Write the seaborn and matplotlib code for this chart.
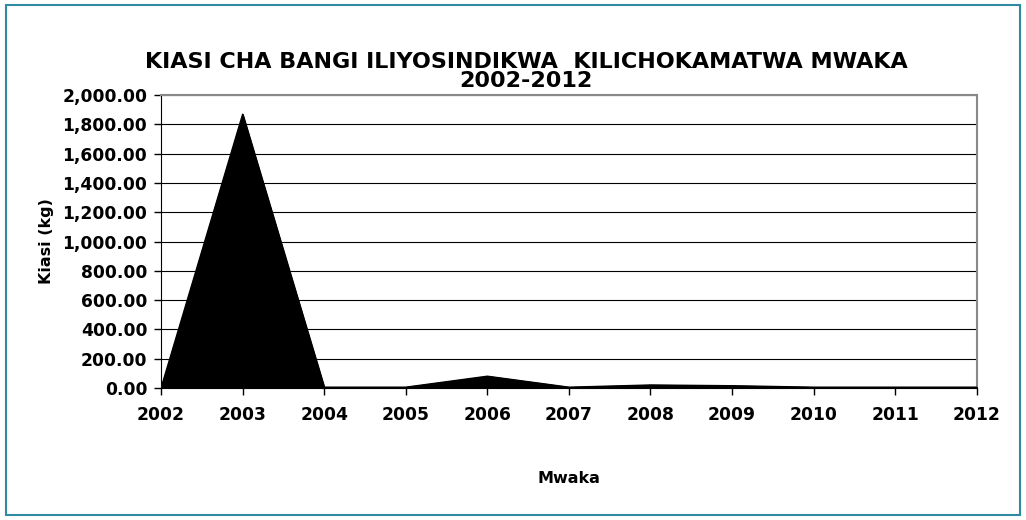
import numpy as np
import pandas as pd
import matplotlib.pyplot as plt
import matplotlib.ticker as mticker
from matplotlib.patches import Rectangle
import seaborn as sns

# data
years = [2002, 2003, 2004, 2005, 2006, 2007, 2008, 2009, 2010, 2011, 2012]
kiasi = [0, 1870, 5, 5, 80, 5, 20, 15, 5, 5, 5]
df = pd.DataFrame({"Mwaka": years, "Kiasi": kiasi})

sns.set_style("white")
plt.rcParams['font.family'] = ['DejaVu Sans']
plt.rcParams['text.color'] = 'black'
plt.rcParams['axes.labelcolor'] = 'black'
plt.rcParams['xtick.color'] = 'black'
plt.rcParams['ytick.color'] = 'black'

fig = plt.figure(figsize=(10.26, 5.2), dpi=100)
ax = fig.add_axes([0.157, 0.254, 0.795, 0.563])

# area
ax.fill_between(df["Mwaka"], df["Kiasi"], color="black", zorder=3)
sns.lineplot(data=df, x="Mwaka", y="Kiasi", color="black", linewidth=1, ax=ax, zorder=3)

ax.set_xlim(2002, 2012)
ax.set_ylim(0, 2000)
ax.set_xticks(years)
ax.set_yticks(np.arange(0, 2001, 200))
ax.yaxis.set_major_formatter(mticker.StrMethodFormatter("{x:,.2f}"))
ax.grid(axis="y", color="black", linewidth=0.8)
ax.set_axisbelow(True)

for lab in ax.get_xticklabels() + ax.get_yticklabels():
    lab.set_fontweight("bold")
    lab.set_fontsize(12.3)
ax.tick_params(axis="x", pad=8)
ax.tick_params(axis="y", pad=5)
ax.tick_params(axis="both", direction="out", length=5, width=1, color="black",
               bottom=True, left=True)

ax.spines["left"].set_color("black")
ax.spines["bottom"].set_color("black")
ax.spines["top"].set_color("#888888")
ax.spines["right"].set_color("#888888")
ax.spines["top"].set_linewidth(1.5)
ax.spines["right"].set_linewidth(1.5)

ax.set_xlabel("Mwaka", fontweight="bold", fontsize=11.5, labelpad=34)
ax.set_ylabel("Kiasi (kg)", fontweight="bold", fontsize=11.5, labelpad=6)

fig.text(0.513, 0.863, "KIASI CHA BANGI ILIYOSINDIKWA  KILICHOKAMATWA MWAKA\n2002-2012",
         ha="center", va="center", fontweight="bold", fontsize=16, linespacing=0.95)

# outer border
fig.patches.append(Rectangle((0.006, 0.01), 0.988, 0.98, transform=fig.transFigure,
                             fill=False, edgecolor="#2E8BA0", linewidth=1.5))

fig.savefig("out.png", dpi=100)
